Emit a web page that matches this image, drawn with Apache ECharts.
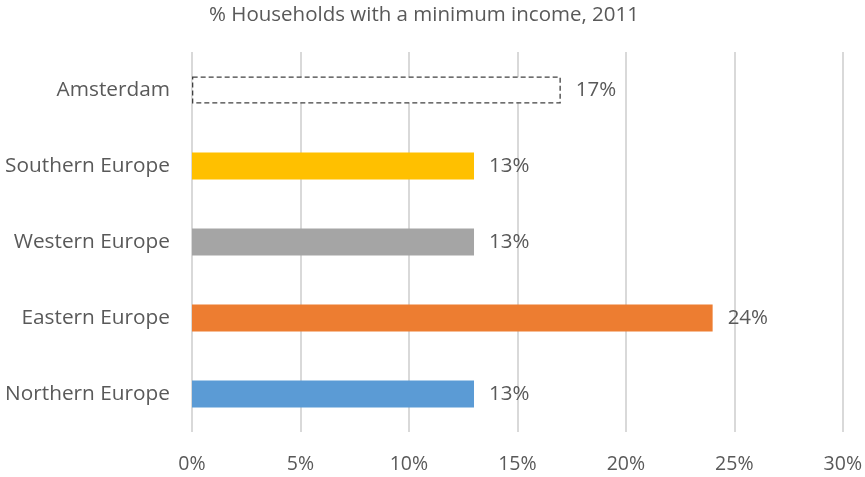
<!DOCTYPE html>
<html>
<head>
<meta charset="utf-8">
<script src="https://cdn.jsdelivr.net/npm/echarts@6/dist/echarts.min.js"></script>
<style>
  html, body { margin: 0; padding: 0; background: #fff; }
  #chart { width: 865px; height: 477px; }
</style>
</head>
<body>
<div id="chart"></div>
<script>
// Share of households living on a minimum income, 2011
const titleText = '% Households with a minimum income, 2011';
const regions = ['Northern Europe', 'Eastern Europe', 'Western Europe', 'Southern Europe', 'Amsterdam'];
const shares = [13, 24, 13, 13, 17];
const barColors = ['#5B9BD5', '#ED7D31', '#A5A5A5', '#FFC000', '#FFFFFF'];
const axisTicks = [0, 5, 10, 15, 20, 25, 30];

const textColor = '#595959';
const fontFamily = '"Open Sans", "Liberation Sans", sans-serif';

const barData = shares.map((v, i) => {
  const item = { value: v, itemStyle: { color: barColors[i] } };
  if (regions[i] === 'Amsterdam') {
    item.itemStyle = {
      color: '#FFFFFF',
      borderColor: '#404040',
      borderWidth: 1.3,
      borderType: [5, 3]
    };
  }
  return item;
});

const chart = echarts.init(document.getElementById('chart'), null, { renderer: 'canvas' });
chart.setOption({
  animation: false,
  textStyle: { fontFamily: fontFamily },
  title: {
    text: titleText,
    left: 419,
    top: 0,
    textAlign: 'center',
    textStyle: { color: textColor, fontSize: 20.5, fontWeight: 'normal', fontFamily: fontFamily }
  },
  grid: { left: 192, right: 20, top: 52, bottom: 45, containLabel: false },
  xAxis: {
    type: 'value',
    min: axisTicks[0],
    max: axisTicks[axisTicks.length - 1],
    interval: 5,
    axisLine: { show: false },
    axisTick: { show: false },
    splitLine: { show: true, lineStyle: { color: '#D9D9D9', width: 2 } },
    axisLabel: {
      color: textColor,
      fontSize: 19.5,
      margin: 22,
      fontFamily: fontFamily,
      formatter: v => v + '%'
    }
  },
  yAxis: {
    type: 'category',
    data: regions,
    axisLine: { show: false },
    axisTick: { show: false },
    axisLabel: { color: textColor, fontSize: 20.8, margin: 22, fontFamily: fontFamily }
  },
  series: [{
    type: 'bar',
    data: barData,
    barWidth: 27,
    label: {
      show: true,
      position: 'right',
      distance: 15,
      color: textColor,
      fontSize: 20.5,
      fontFamily: fontFamily,
      formatter: p => p.value + '%'
    }
  }]
});
</script>
</body>
</html>
